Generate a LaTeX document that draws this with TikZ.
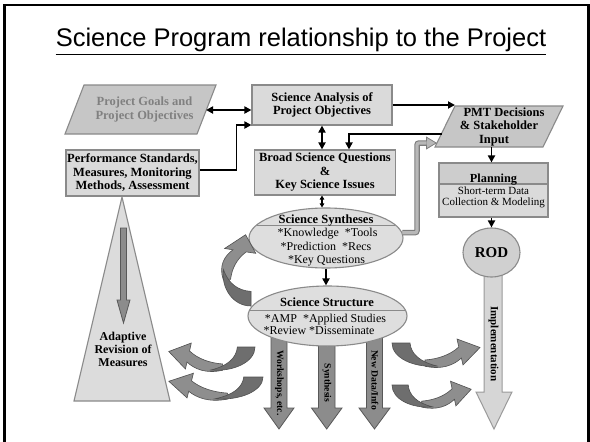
\documentclass[tikz,border=0pt]{standalone}
\usepackage{fontspec}
\setmainfont{Liberation Serif}
\newfontfamily\titlefont{Liberation Sans}
\usetikzlibrary{arrows.meta,shapes.geometric,calc}

\definecolor{boxfill}{HTML}{DADADA}
\definecolor{boxline}{HTML}{8A8A8A}
\definecolor{parafill}{HTML}{C6C6C6}
\definecolor{parafont}{HTML}{808080}
\definecolor{ellfill}{HTML}{DEDEDE}
\definecolor{hdrfill}{HTML}{CDCDCD}
\definecolor{rodfill}{HTML}{D0D0D0}
\definecolor{pyrfill}{HTML}{DCDCDC}
\definecolor{blockfill}{HTML}{8C8C8C}
\definecolor{blockline}{HTML}{585858}
\definecolor{implfill}{HTML}{D6D6D6}
\definecolor{implline}{HTML}{9A9A9A}
\definecolor{bandfront}{HTML}{8E8E8E}
\definecolor{bandback}{HTML}{6E6E6E}
\definecolor{bandline}{HTML}{505050}
\definecolor{gconndark}{HTML}{7C7C7C}
\definecolor{gconnlight}{HTML}{B8B8B8}

% a curved ribbon arrow: tail at the origin, bulging downwards, head to the right
\newcommand{\curvedband}{%
  \filldraw[fill=bandfront, draw=bandline, line width=0.6]
    (33,23.2) .. controls (50,27) and (62,22) .. (69.4,15)
    -- (71,22) -- (88,4.5) -- (65,-4) -- (66.8,4)
    .. controls (58,12) and (46,16) .. (33,17) -- cycle;
  \filldraw[fill=bandback, draw=bandline, line width=0.6]
    (0,0) -- (18,0) .. controls (19,11) and (28,19) .. (45,23)
    .. controls (22,25) and (0,15) .. (0,0) -- cycle;
}

\tikzset{
  boxnode/.style={draw=boxline, fill=boxfill, line width=1.1, inner sep=0,
    align=center, font=\bfseries\fontsize{12.5}{13.5}\selectfont},
  parashape/.style={draw=boxline, fill=parafill, line width=1.1},
  paratext/.style={inner sep=0, align=center,
    font=\bfseries\fontsize{12.5}{13.5}\selectfont},
  ellnode/.style={shape=ellipse, draw=boxline, fill=ellfill, line width=1.1, inner sep=0},
  hdtext/.style={inner sep=0, anchor=base, font=\bfseries\fontsize{12.5}{13}\selectfont},
  bodytext/.style={inner sep=0, anchor=base, font=\fontsize{12}{13}\selectfont},
  smalltext/.style={inner sep=0, anchor=base, font=\fontsize{11}{12}\selectfont},
  conn/.style={line width=1.8, -{Triangle[length=7pt,width=7pt]}},
  dconn/.style={line width=1.8, {Triangle[length=7pt,width=7pt]}-{Triangle[length=7pt,width=7pt]}},
  sconn/.style={line width=1.1, {Triangle[length=4pt,width=4.5pt]}-{Triangle[length=4pt,width=4.5pt]}},
  blockarrow/.style={fill=blockfill, draw=blockline, line width=0.8},
  vtext/.style={inner sep=0, rotate=-90, font=\bfseries\fontsize{9.6}{11}\selectfont},
}

\begin{document}
\begin{tikzpicture}[x=1pt,y=-1pt]
\useasboundingbox (0,0) rectangle (590,442);
\fill[white] (0,0) rectangle (590,442);

% slide frame
\draw[line width=2.2] (4.5,442) -- (4.5,5) -- (588.5,5) -- (588.5,442);

% title
\node[font=\titlefont\fontsize{25.5}{30}\selectfont, anchor=base, inner sep=0]
  (title) at (301,46) {Science Program relationship to the Project};
\draw[line width=1.4] ([yshift=-8.5pt]title.base west) -- ([yshift=-8.5pt]title.base east);

% pyramid with its inner arrow
\filldraw[fill=pyrfill, draw=boxline, line width=1.1] (74,401) -- (122,197) -- (170,401) -- cycle;
\filldraw[blockarrow] (120.5,228) -- (126.5,228) -- (126.5,300) -- (130,300)
  -- (123.5,323) -- (117,300) -- (120.5,300) -- cycle;
\node[inner sep=0, align=center, font=\bfseries\fontsize{12}{13}\selectfont]
  (adapt) at (123,349) {Adaptive\\Revision of\\Measures};

% block arrows below the structure ellipse
\filldraw[blockarrow] (271,330) -- (287,330) -- (287,408) -- (294,408) -- (279,429)
  -- (264,408) -- (271,408) -- cycle;
\filldraw[blockarrow] (318.5,330) -- (335,330) -- (335,408) -- (342,408) -- (326.7,429)
  -- (311.5,408) -- (318.5,408) -- cycle;
\filldraw[blockarrow] (366.5,330) -- (382.5,330) -- (382.5,408) -- (390,408) -- (374.5,429)
  -- (359,408) -- (366.5,408) -- cycle;
\node[vtext] (work) at (279.5,383) {Workshops, etc.};
\node[vtext] (synth) at (327,383) {Synthesis};
\node[vtext] (newdata) at (375,380) {New Data/Info};

% implementation arrow
\filldraw[fill=implfill, draw=implline, line width=1] (484,270) -- (502,270) -- (502,392)
  -- (512,392) -- (494,429) -- (476,392) -- (484,392) -- cycle;
\node[vtext, font=\bfseries\fontsize{11}{12}\selectfont] (impl) at (493.5,344) {Implementation};

% parallelogram inputs
\filldraw[parashape] (65,134) -- (84,85) -- (216,85) -- (197,134) -- cycle;
\node[paratext, text=parafont] (pg) at (140.5,109.5)
  {\hspace*{8pt}Project Goals and\\\hspace*{8pt}Project Objectives};
\coordinate (pgR) at (206,110);
\filldraw[parashape] (435,147) -- (455,106) -- (563,106) -- (543,147) -- cycle;
\node[paratext] (pmt) at (499,126.5)
  {\hspace*{10pt}PMT Decisions\\\& Stakeholder\\Input\hspace*{10pt}};
\coordinate (pmtTL) at (455,106);
\coordinate (pmtB) at (491,147);
\coordinate (pmtout) at (441.5,134);
\coordinate (pmtin) at (437,143);

% boxes
\node[boxnode, minimum width=140, minimum height=40] (sa) at (322,105)
  {Science Analysis of\\Project Objectives};
\node[boxnode, minimum width=133, minimum height=46] (perf) at (132.5,173)
  {Performance Standards,\\Measures, Monitoring\\Methods, Assessment};
\node[boxnode, minimum width=141, minimum height=45] (broad) at (325,172.5)
  {Broad Science Questions\\\&\\Key Science Issues};

% planning box: header and body
\node[boxnode, fill=hdrfill, minimum width=109, minimum height=21] (planh) at (493.5,173.5) {};
\node[boxnode, minimum width=109, minimum height=33] (planb) at (493.5,200.5) {};
\node[hdtext, font=\bfseries\fontsize{12.3}{13}\selectfont] (planht) at (493.5,182) {Planning};
\node[smalltext] (plant1) at (493.5,194.5) {Short-term Data};
\node[smalltext] (plant2) at (493.5,205.5) {Collection \& Modeling};

% ROD
\node[ellnode, fill=rodfill, minimum width=57, minimum height=49,
  font=\bfseries\fontsize{15}{16}\selectfont] (rod) at (491.5,252.5) {ROD};

% science syntheses
\node[ellnode, minimum width=154, minimum height=60] (syn) at (326,238) {};
\draw[boxline, line width=1] (256.6,225) -- (395.4,225);
\node[hdtext] (synh) at (326,223) {Science Syntheses};
\node[bodytext] (syn1) at (327.5,236) {*Knowledge\ \ *Tools};
\node[bodytext] (syn2) at (326,250) {*Prediction\ \ *Recs};
\node[bodytext] (syn3) at (326.5,263) {*Key Questions};

% science structure
\node[ellnode, minimum width=159, minimum height=60] (str) at (327.5,316) {};
\draw[boxline, line width=1] (249.6,310) -- (405.4,310);
\node[hdtext] (strh) at (327,306.5) {Science Structure};
\node[bodytext] (str1) at (325.5,322) {*AMP\ \ *Applied Studies};
\node[bodytext] (str2) at (319,334.5) {*Review *Disseminate};

% black connectors
\draw[dconn] (pgR) -- (pgR -| sa.west);
\draw[conn] (sa.east) -- (sa.east -| pmtTL);
\draw[conn] ([yshift=3pt]perf.east) -- ++(37,0) |- ([yshift=-20pt]sa.west);
\draw[dconn] (sa.south) -- (sa.south |- broad.north);
\draw[conn] (pmtout) -| ([xshift=24pt]broad.north);
\draw[sconn] ([xshift=-3pt]broad.south) -- ([xshift=-3pt]broad.south |- syn.north);
\draw[conn] (syn.south) -- (syn.south |- str.north);
\draw[conn] (rod.north |- pmtB) -- (rod.north |- planh.north);
\draw[conn] (planb.south -| rod.north) -- (rod.north);

% grey connector from the syntheses to the decisions
\draw[draw=gconndark, line width=5.5, rounded corners=2,
  -{Triangle[length=11pt,width=13pt,line width=0.8pt,fill=gconnlight]}]
  (syn.4) -| ([xshift=-20pt]pmtin) -- (pmtin);
\draw[draw=gconnlight, line width=3.2, rounded corners=2]
  (syn.4) -| ([xshift=-20pt]pmtin) -- ([xshift=-10.5pt]pmtin);

% curved ribbon arrows
\begin{scope}[shift={(392,343)}] \curvedband \end{scope}
\begin{scope}[shift={(392,385)}, xscale=0.9, yscale=0.95] \curvedband \end{scope}
\begin{scope}[shift={(255,347)}, xscale=-0.98] \curvedband \end{scope}
\begin{scope}[shift={(263,377)}, xscale=-1.07, yscale=0.95] \curvedband \end{scope}
\begin{scope}[shift={(251,306)}, cm={0,1,1,0,(0,0)}, xscale=0.81, yscale=1.2] \curvedband \end{scope}
\end{tikzpicture}
\end{document}
